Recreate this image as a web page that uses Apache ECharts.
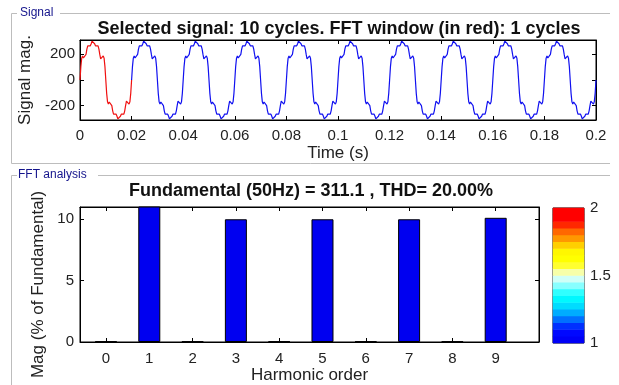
<!DOCTYPE html>
<html>
<head>
<meta charset="utf-8">
<script src="https://cdn.jsdelivr.net/npm/echarts@6/dist/echarts.min.js"></script>
<style>
  html, body { margin: 0; padding: 0; background: #fff; }
  #chart { width: 619px; height: 385px; }
</style>
</head>
<body>
<div id="chart"></div>
<script>
// one 50 Hz cycle of the signal, 6 degree steps
const signalCycle = [
  0, 104, 170, 187, 171, 156, 165, 199, 240, 265, 269, 264, 266, 282, 302,
  311, 302, 282, 266, 264, 269, 265, 240, 199, 165, 156, 171, 187, 170, 104,
  0, -104, -170, -187, -171, -156, -165, -199, -240, -265, -269, -264, -266, -282, -302,
  -311, -302, -282, -266, -264, -269, -265, -240, -199, -165, -156, -171, -187, -170, -104
];
const cycleCount = 10;
const cyclePeriod = 0.02;
const fftWindowCycles = 1;
const signalRange = [-311.1, 311.1];
const signalTicks = [-200, 0, 200];

const harmonicOrder = [0, 1, 2, 3, 4, 5, 6, 7, 8, 9];
const harmonicMag = [0.05, 100, 0.05, 10, 0.05, 10, 0.05, 10, 0.05, 10.12];
const magRange = [0, 11];
const magTicks = [0, 5, 10];

const colorbarLevels = [
  1.025, 1.075, 1.125, 1.175, 1.225, 1.275, 1.325, 1.375, 1.425, 1.475,
  1.525, 1.575, 1.625, 1.675, 1.725, 1.775, 1.825, 1.875, 1.925, 1.975
];
const colorbarTicks = [1, 1.5, 2];
// colour stops every 0.05 from 1 to 2
const colorbarColors = [
  '#0000f0', '#0000ff', '#0010ff', '#0050ff', '#0090ff', '#00c8ff', '#00f0ff',
  '#00ffff', '#60ffff', '#b0ffff', '#f0fff0', '#ffff60', '#ffff00', '#ffff00',
  '#ffee00', '#ffb000', '#ff8000', '#ff5000', '#ff0000', '#ff0000', '#ff0000'
];

const signalTitle = 'Selected signal: 10 cycles. FFT window (in red): 1 cycles';
const fftTitle = 'Fundamental (50Hz) = 311.1 , THD= 20.00%';

// build sampled signal
const sampleStep = cyclePeriod / signalCycle.length;
const signalPoints = [];
for (let c = 0; c < cycleCount; c++) {
  signalCycle.forEach((v, i) => {
    signalPoints.push([(c * signalCycle.length + i) * sampleStep, v]);
  });
}
signalPoints.push([cycleCount * cyclePeriod, signalCycle[0]]);
const windowSamples = fftWindowCycles * signalCycle.length;
const windowPoints = signalPoints.slice(0, windowSamples + 1);
const restPoints = signalPoints.slice(windowSamples);

const font = 'Liberation Sans';
const labelColor = '#222';
const frameColor = '#bdbdbd';

const boxAxis = (extra) => Object.assign({
  axisLine: { onZero: false, lineStyle: { color: '#000', width: 1 } },
  axisTick: { inside: true, length: 4, lineStyle: { color: '#000' } },
  axisLabel: { show: false },
  splitLine: { show: false }
}, extra);

const tickLabel = (extra) => Object.assign({
  color: labelColor, fontSize: 15, fontFamily: font
}, extra);

const nameStyle = { color: labelColor, fontSize: 17, fontFamily: font };

const chart = echarts.init(document.getElementById('chart'));

chart.setOption({
  animation: false,
  textStyle: { fontFamily: font },
  title: [
    {
      text: signalTitle, left: 339, top: 20, textAlign: 'center', padding: 0,
      textStyle: { fontSize: 18, fontWeight: 'bold', color: '#111', fontFamily: font }
    },
    {
      text: fftTitle, left: 311, top: 182, textAlign: 'center', padding: 0,
      textStyle: { fontSize: 18, fontWeight: 'bold', color: '#111', fontFamily: font }
    }
  ],
  grid: [
    { left: 80, right: 23, top: 40, bottom: 265, show: true, borderColor: '#000', borderWidth: 1, backgroundColor: '#fff' },
    { left: 80, right: 80, top: 207, bottom: 43, show: true, borderColor: '#000', borderWidth: 1, backgroundColor: '#fff' },
    { left: 553, right: 35, top: 208, bottom: 42, show: true, borderColor: '#000', borderWidth: 1 }
  ],
  xAxis: [
    boxAxis({
      gridIndex: 0, type: 'value', min: 0, max: cycleCount * cyclePeriod, interval: cyclePeriod,
      axisLabel: tickLabel({ margin: 8 }),
      name: 'Time (s)', nameLocation: 'middle', nameGap: 25, nameTextStyle: nameStyle
    }),
    boxAxis({ gridIndex: 0, type: 'value', position: 'top', min: 0, max: cycleCount * cyclePeriod, interval: cyclePeriod }),
    boxAxis({
      gridIndex: 1, type: 'value', min: -0.6, max: 10,
      axisTick: { inside: true, length: 4, customValues: harmonicOrder, lineStyle: { color: '#000' } },
      axisLabel: tickLabel({ margin: 9, customValues: harmonicOrder }),
      name: 'Harmonic order', nameLocation: 'middle', nameGap: 24, nameTextStyle: nameStyle
    }),
    boxAxis({
      gridIndex: 1, type: 'value', position: 'top', min: -0.6, max: 10,
      axisTick: { inside: true, length: 4, customValues: harmonicOrder, lineStyle: { color: '#000' } }
    }),
    { gridIndex: 2, type: 'category', data: ['c'], show: false }
  ],
  yAxis: [
    boxAxis({
      gridIndex: 0, type: 'value', min: signalRange[0], max: signalRange[1],
      axisTick: { inside: true, length: 4, customValues: signalTicks, lineStyle: { color: '#000' } },
      axisLabel: tickLabel({ margin: 5, customValues: signalTicks }),
      name: 'Signal mag.', nameLocation: 'middle', nameGap: 42, nameTextStyle: nameStyle
    }),
    boxAxis({
      gridIndex: 0, type: 'value', position: 'right', min: signalRange[0], max: signalRange[1],
      axisTick: { inside: true, length: 4, customValues: signalTicks, lineStyle: { color: '#000' } }
    }),
    boxAxis({
      gridIndex: 1, type: 'value', min: magRange[0], max: magRange[1],
      axisTick: { inside: true, length: 4, customValues: magTicks, lineStyle: { color: '#000' } },
      axisLabel: tickLabel({ margin: 6, customValues: magTicks }),
      name: 'Mag (% of Fundamental)', nameLocation: 'middle', nameGap: 22,
      nameTextStyle: Object.assign({ padding: [0, 20, 0, 0] }, nameStyle)
    }),
    boxAxis({
      gridIndex: 1, type: 'value', position: 'right', min: magRange[0], max: magRange[1],
      axisTick: { inside: true, length: 4, customValues: magTicks, lineStyle: { color: '#000' } }
    }),
    { gridIndex: 2, type: 'category', data: colorbarLevels, show: false },
    boxAxis({
      gridIndex: 2, type: 'value', position: 'right', min: 1, max: 2,
      axisTick: { inside: true, length: 2, customValues: colorbarTicks, lineStyle: { color: '#000' } },
      axisLabel: tickLabel({ margin: 6, customValues: colorbarTicks })
    })
  ],
  visualMap: {
    type: 'continuous', min: 1, max: 2, seriesIndex: 3, show: false,
    inRange: { color: colorbarColors }
  },
  series: [
    {
      type: 'line', xAxisIndex: 0, yAxisIndex: 0, data: restPoints,
      showSymbol: false, sampling: 'none', lineStyle: { color: '#1010f0', width: 1.2 }
    },
    {
      type: 'line', xAxisIndex: 0, yAxisIndex: 0, data: windowPoints,
      showSymbol: false, lineStyle: { color: '#f01010', width: 1.2 }
    },
    {
      type: 'bar', xAxisIndex: 2, yAxisIndex: 2, barWidth: 22, clip: true,
      data: harmonicOrder.map((h, i) => [h, harmonicMag[i]]),
      itemStyle: { color: '#0000f0', borderColor: '#000', borderWidth: 1 }
    },
    {
      type: 'heatmap', xAxisIndex: 4, yAxisIndex: 4,
      data: colorbarLevels.map((v, i) => [0, i, v])
    }
  ],
  graphic: [
    // panel frames
    { type: 'polyline', silent: true, shape: { points: [[17, 13.5], [11.5, 13.5], [11.5, 163.5], [610, 163.5]] }, style: { stroke: frameColor, lineWidth: 1, fill: null } },
    { type: 'line', silent: true, shape: { x1: 60, y1: 13.5, x2: 610, y2: 13.5 }, style: { stroke: frameColor, lineWidth: 1 } },
    { type: 'polyline', silent: true, shape: { points: [[17, 175.5], [11.5, 175.5], [11.5, 385]] }, style: { stroke: frameColor, lineWidth: 1, fill: null } },
    { type: 'line', silent: true, shape: { x1: 98, y1: 175.5, x2: 610, y2: 175.5 }, style: { stroke: frameColor, lineWidth: 1 } },
    { type: 'text', left: 20, top: 7, style: { text: 'Signal', fill: '#14148c', fontSize: 12, fontFamily: font } },
    { type: 'text', left: 18, top: 169, style: { text: 'FFT analysis', fill: '#14148c', fontSize: 12, fontFamily: font } }
  ]
});
</script>
</body>
</html>
